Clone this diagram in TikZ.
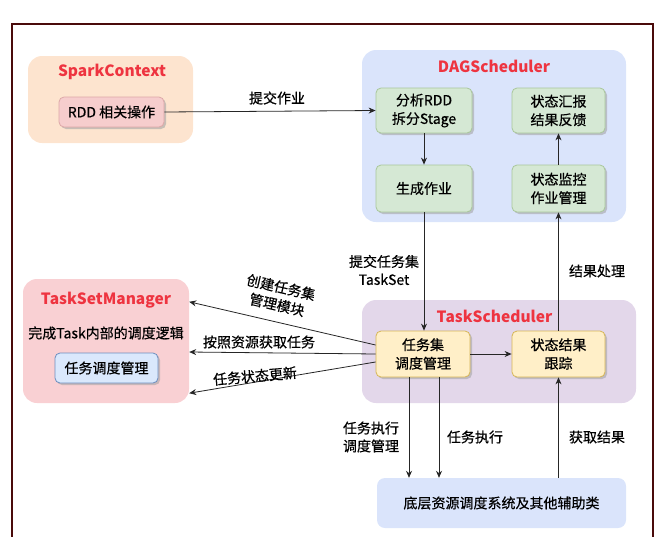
\documentclass[tikz,border=0pt]{standalone}
\usepackage{fontspec}
\setmainfont{Noto Sans CJK SC}[UprightFeatures={FakeBold=0.5}]
\usetikzlibrary{arrows.meta,shadows,calc}
\definecolor{peach}{HTML}{FDE4CF}
\definecolor{dagblue}{HTML}{DAE4FB}
\definecolor{lav}{HTML}{E3D7EA}
\definecolor{tsmpink}{HTML}{F9D0D3}
\definecolor{rddfill}{HTML}{F6CDCD}
\definecolor{rddline}{HTML}{DDA8A8}
\definecolor{gfill}{HTML}{D5E8D4}
\definecolor{gline}{HTML}{A9C79A}
\definecolor{yfill}{HTML}{FFEFC8}
\definecolor{yline}{HTML}{D6B656}
\definecolor{bfill}{HTML}{DAE8FC}
\definecolor{bline}{HTML}{6C8EBF}
\definecolor{tred}{HTML}{EE3440}
\definecolor{frame}{HTML}{4A0A0A}
\begin{document}
\begin{tikzpicture}[x=1pt,y=-1pt,
  grp/.style={rounded corners=14pt, inner sep=0pt},
  box/.style={rounded corners=5pt, inner sep=0pt, align=center, draw, line width=0.8pt,
     font=\fontsize{14}{18.5}\selectfont,
     drop shadow={shadow xshift=2pt, shadow yshift=-2pt, fill=black!35, opacity=0.6}},
  ttl/.style={font=\fontsize{15.5}{18}\selectfont\bfseries, text=tred},
  lbl/.style={font=\fontsize{14}{18}\selectfont, align=center, inner sep=1pt},
  arr/.style={-{Stealth[length=7pt,width=6pt]}, line width=0.8pt, draw=black!85}
]
\useasboundingbox (0,0) rectangle (659,536);
\draw[frame, line width=1.2pt] (12,540) -- (12,24) -- (653,24) -- (653,540);

% groups
\node[grp, fill=peach, minimum width=165, minimum height=87] (sc) at (110.5,99.5) {};
\node[grp, fill=dagblue, minimum width=264, minimum height=172] (dag) at (494,136) {};
\node[grp, fill=lav, minimum width=274, minimum height=103] (ts) at (499,351.5) {};
\node[grp, fill=tsmpink, minimum width=166, minimum height=124] (tsm) at (106,341) {};
\node[grp, rounded corners=8pt, fill=dagblue, minimum width=249, minimum height=50,
  font=\fontsize{14}{18}\selectfont] (bot) at (501.5,503) {底层资源调度系统及其他辅助类};

% titles
\node[ttl] (tsc) at (112,72) {SparkContext};
\node[ttl] (tdag) at (494,66) {DAGScheduler};
\node[ttl] (tts) at (494.5,316) {TaskScheduler};
\node[ttl] (ttsm) at (106,300) {TaskSetManager};
\node[lbl] (sub) at (106,333) {完成Task内部的调度逻辑};

% boxes
\node[box, fill=rddfill, draw=rddline, minimum width=105, minimum height=30] (rdd) at (111.5,112) {RDD 相关操作};
\node[box, fill=gfill, draw=gline, minimum width=96, minimum height=45] (ana) at (424,110.5) {分析RDD\\拆分Stage};
\node[box, fill=gfill, draw=gline, minimum width=96, minimum height=47] (gen) at (424,188.5) {生成作业};
\node[box, fill=gfill, draw=gline, minimum width=93, minimum height=45] (rep) at (558.5,110.5) {状态汇报\\结果反馈};
\node[box, fill=gfill, draw=gline, minimum width=93, minimum height=47] (mon) at (558.5,188.5) {状态监控\\作业管理};
\node[box, fill=yfill, draw=yline, minimum width=94, minimum height=46] (js) at (423,354) {任务集\\调度管理};
\node[box, fill=yfill, draw=yline, minimum width=93, minimum height=46] (sr) at (558.5,354) {状态结果\\跟踪};
\node[box, fill=bfill, draw=bline, minimum width=103, minimum height=30] (tm) at (106.5,368) {任务调度管理};

% connectors
\draw[arr] (rdd.east) -- (ana.west);
\draw[arr] (ana.south) -- (gen.north);
\draw[arr] (mon.north) -- (rep.south);
\draw[arr] (gen.south) -- (gen.south |- js.north);
\draw[arr] (js.east) -- (sr.west);
\draw[arr] (sr.north) -- (mon.south);
\draw[arr] ($(js.west)+(0,-9)$) -- ($(tsm.north east)+(0,23)$);
\draw[arr] (js.west) -- ($(tsm.east)+(0,11)$);
\draw[arr] ($(js.west)+(0,8)$) -- ($(tsm.south east)+(0,-10)$);
\coordinate (d1) at ($(js.south)+(-14,0)$);
\coordinate (d2) at ($(js.south)+(16,0)$);
\draw[arr] (d1) -- (d1 |- bot.north);
\draw[arr] (d2) -- (d2 |- bot.north);
\draw[arr] (sr.south |- bot.north) -- (sr.south);

% labels
\node[lbl] (l1) at (277,98) {提交作业};
\node[lbl] (l2) at (384,270) {提交任务集\\TaskSet};
\node[lbl] (l3) at (597,271) {结果处理};
\node[lbl, rotate=-13] (l4) at (279,296) {创建任务集\\管理模块};
\node[lbl] (l5) at (259,342) {按照资源获取任务};
\node[lbl, rotate=5] (l6) at (255,376) {任务状态更新};
\node[lbl] (l7) at (371,437) {任务执行\\调度管理};
\node[lbl] (l8) at (475,437) {任务执行};
\node[lbl] (l9) at (597,437) {获取结果};
\end{tikzpicture}
\end{document}
